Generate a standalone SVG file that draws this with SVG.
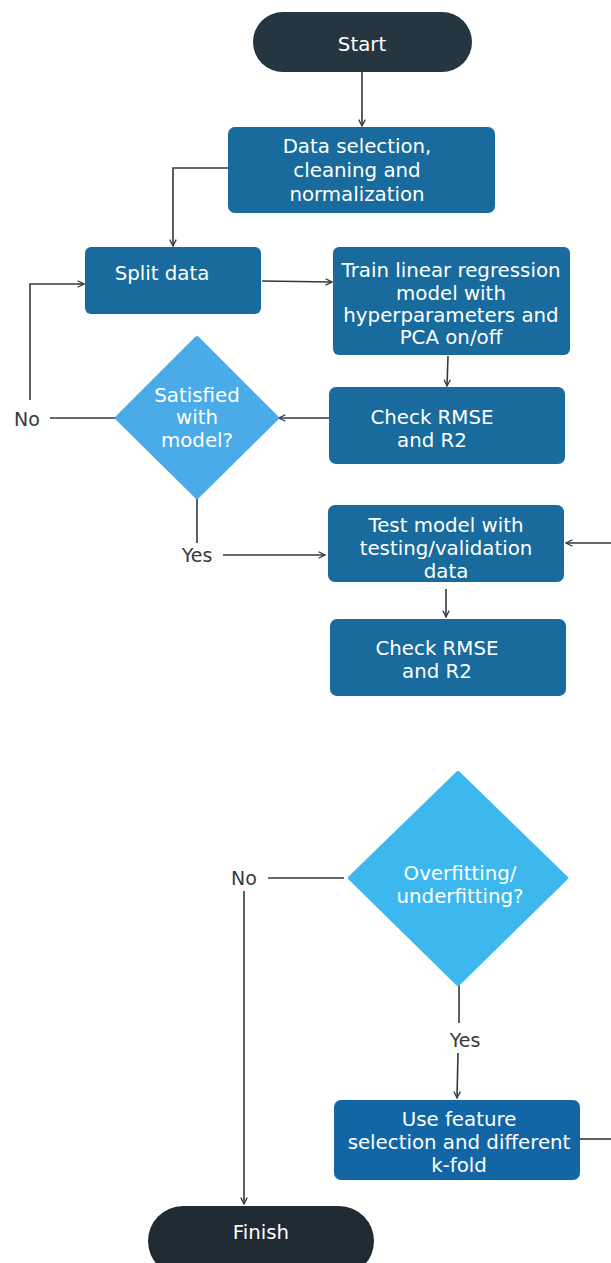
<svg xmlns="http://www.w3.org/2000/svg" width="611" height="1263" viewBox="0 0 611 1263">
<defs>
<style>
.box{fill:#186b9c}
.t{font-family:"DejaVu Sans","Liberation Sans",sans-serif;font-size:19.8px;fill:#ffffff;text-anchor:middle}
.lbl{font-family:"DejaVu Sans","Liberation Sans",sans-serif;font-size:19px;fill:#333b40;text-anchor:middle}
.c{stroke:#2e3a40;stroke-width:1.6;fill:none}
</style>
<marker id="ah" viewBox="0 0 10 10" refX="9" refY="5" markerWidth="8" markerHeight="8" orient="auto" markerUnits="userSpaceOnUse">
<path d="M1,1 L9,5 L1,9" fill="none" stroke="#2e3a40" stroke-width="1.6"/>
</marker>
</defs>
<rect width="611" height="1263" fill="#ffffff"/>
<g id="connectors">
<path class="c" d="M362,72 V126" marker-end="url(#ah)"/>
<path class="c" d="M228,168 H173 V246" marker-end="url(#ah)"/>
<path class="c" d="M262,281 L332,282" marker-end="url(#ah)"/>
<path class="c" d="M448,356 L447,386" marker-end="url(#ah)"/>
<path class="c" d="M329,418 H279" marker-end="url(#ah)"/>
<path class="c" d="M117,418 H50"/>
<path class="c" d="M30,400 V284 H84" marker-end="url(#ah)"/>
<path class="c" d="M197,497 V543"/>
<path class="c" d="M223,555 H325" marker-end="url(#ah)"/>
<path class="c" d="M611,543 H566" marker-end="url(#ah)"/>
<path class="c" d="M446,589 V617" marker-end="url(#ah)"/>
<path class="c" d="M344,878 H268"/>
<path class="c" d="M244,891 V1204" marker-end="url(#ah)"/>
<path class="c" d="M459,984 V1023"/>
<path class="c" d="M458,1053 L457,1098" marker-end="url(#ah)"/>
<path class="c" d="M580,1139 H611"/>
</g>
<g id="start">
<rect x="253" y="12" width="219" height="60" rx="30" fill="#263640"/>
<text class="t" x="362" y="51">Start</text>
</g>
<g id="data-selection">
<rect class="box" x="228" y="127" width="267" height="86" rx="7"/>
<text class="t" x="357" y="153">Data selection,</text>
<text class="t" x="357" y="177">cleaning and</text>
<text class="t" x="357" y="201">normalization</text>
</g>
<g id="split-data">
<rect class="box" x="85" y="247" width="176" height="67" rx="6"/>
<text class="t" x="162" y="280">Split data</text>
</g>
<g id="train">
<rect class="box" x="333" y="247" width="237" height="108" rx="6"/>
<text class="t" x="451" y="277">Train linear regression</text>
<text class="t" x="451" y="300">model with</text>
<text class="t" x="451" y="322">hyperparameters and</text>
<text class="t" x="451" y="344">PCA on/off</text>
</g>
<g id="check1">
<rect class="box" x="329" y="387" width="236" height="77" rx="7"/>
<text class="t" x="432" y="424">Check RMSE</text>
<text class="t" x="432" y="447">and R2</text>
</g>
<g id="satisfied">
<path d="M197,338 L277,418 L197,497 L117,418 Z" fill="#4aabe8" stroke="#4aabe8" stroke-width="4" stroke-linejoin="round"/>
<text class="t" x="197" y="402">Satisfied</text>
<text class="t" x="197" y="424">with</text>
<text class="t" x="197" y="447">model?</text>
</g>
<g id="labels">
<text class="lbl" x="27" y="426">No</text>
<text class="lbl" x="197" y="562">Yes</text>
<text class="lbl" x="244" y="885">No</text>
<text class="lbl" x="465" y="1047">Yes</text>
</g>
<g id="test">
<rect class="box" x="328" y="505" width="236" height="77" rx="7"/>
<text class="t" x="446" y="532">Test model with</text>
<text class="t" x="446" y="555">testing/validation</text>
<text class="t" x="446" y="578">data</text>
</g>
<g id="check2">
<rect class="box" x="330" y="619" width="236" height="77" rx="7"/>
<text class="t" x="437" y="655">Check RMSE</text>
<text class="t" x="437" y="678">and R2</text>
</g>
<g id="overfitting">
<path d="M458,773 L566,878 L458,984 L350,878 Z" fill="#3cb8ef" stroke="#3cb8ef" stroke-width="4" stroke-linejoin="round"/>
<text class="t" x="460" y="880">Overfitting/</text>
<text class="t" x="460" y="903">underfitting?</text>
</g>
<g id="feature">
<rect x="334" y="1100" width="246" height="80" rx="7" fill="#1266a5"/>
<text class="t" x="459" y="1126">Use feature</text>
<text class="t" x="459" y="1149">selection and different</text>
<text class="t" x="459" y="1172">k-fold</text>
</g>
<g id="finish">
<rect x="148" y="1206" width="226" height="70" rx="35" fill="#1f2a32"/>
<text class="t" x="261" y="1239">Finish</text>
</g>
</svg>
